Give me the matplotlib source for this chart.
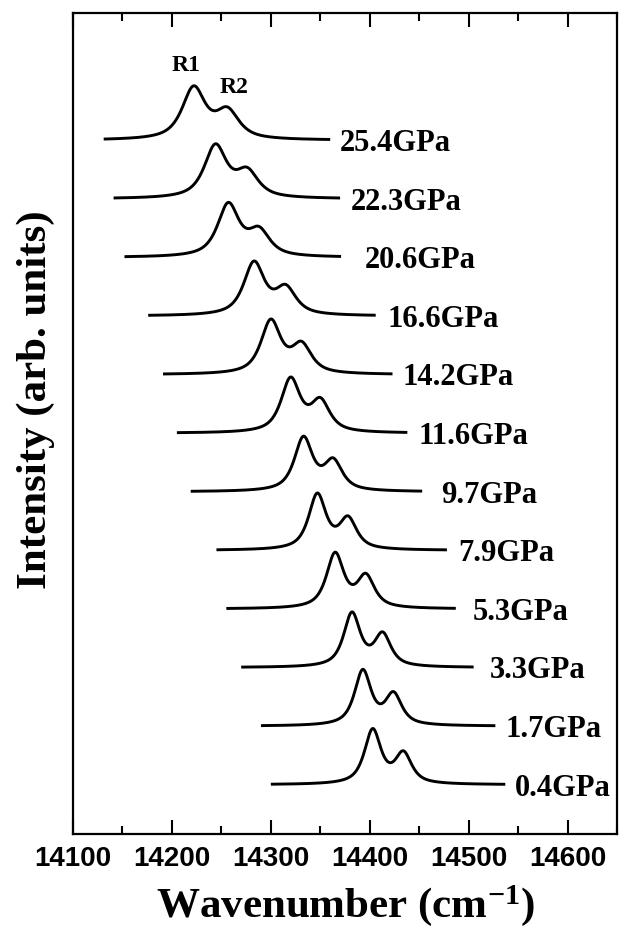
"""
Ruby R1/R2 fluorescence spectra under pressure, stacked with a vertical offset.
"""

import numpy as np
import matplotlib
matplotlib.use("Agg")
import matplotlib.pyplot as plt
from matplotlib.ticker import MultipleLocator

# pressures (GPa), bottom trace first
pressures = [0.4, 1.7, 3.3, 5.3, 7.9, 9.7, 11.6, 14.2, 16.6, 20.6, 22.3, 25.4]

# peak positions (cm-1)
r1_pos = [14403, 14393, 14382, 14365, 14347, 14333, 14320, 14300, 14283, 14257, 14244, 14222]
r2_pos = [14434, 14424, 14413, 14396, 14378, 14363, 14350, 14331, 14315, 14288, 14276, 14256]

# peak heights above each baseline (one offset step = 1)
r1_height = [0.96, 0.97, 0.95, 0.97, 0.98, 0.95, 0.96, 0.95, 0.94, 0.94, 0.94, 0.93]
r2_height = [0.58, 0.59, 0.61, 0.61, 0.59, 0.58, 0.61, 0.57, 0.54, 0.53, 0.54, 0.57]

# half width at half maximum of each line (cm-1)
hwhm = [10, 10, 10, 10.5, 10.5, 11, 11.5, 12, 12.5, 13, 13.5, 14]

# where each recorded trace starts and stops, and where its label begins
x_start = [14300, 14290, 14270, 14255, 14245, 14219, 14205, 14191, 14176, 14152, 14141, 14131]
x_end = [14537, 14527, 14505, 14487, 14478, 14453, 14438, 14423, 14406, 14371, 14370, 14360]
label_x = [14547, 14537, 14521, 14504, 14489, 14472, 14449, 14433, 14418, 14395, 14381, 14370]

xticks = [14100, 14200, 14300, 14400, 14500, 14600]

SERIF = "Liberation Serif"
SANS = "Liberation Sans"


def line_shape(x, center, width, eta=0.8):
    """Unit-height pseudo-Voigt profile."""
    r = ((x - center) / width) ** 2
    return eta / (1.0 + r) + (1.0 - eta) * np.exp(-np.log(2) * r)


def spectrum(x, c1, c2, h1, h2, w):
    # pick amplitudes so the summed curve hits the read heights at both peaks
    s = line_shape(np.array([c2]), c1, w)[0]
    a1, a2 = np.linalg.solve([[1.0, s], [s, 1.0]], [h1, h2])
    return a1 * line_shape(x, c1, w) + a2 * line_shape(x, c2, w)


fig = plt.figure(figsize=(6.21, 9.37), dpi=100)
ax = fig.add_axes([0.1176, 0.1089, 0.876, 0.876])

for i, p in enumerate(pressures):
    x = np.linspace(x_start[i], x_end[i], 600)
    y = i + spectrum(x, r1_pos[i], r2_pos[i], r1_height[i], r2_height[i], hwhm[i])
    ax.plot(x, y, color="black", lw=2.1, solid_capstyle="butt")
    ax.text(label_x[i], i - 0.04, f"{p}GPa", ha="left", va="center",
            fontsize=22, fontweight="bold", family=SERIF)

# peak names above the top trace
ax.text(14214, 12.30, "R1", ha="center", va="center", fontsize=17,
        fontweight="bold", family=SERIF)
ax.text(14263, 11.92, "R2", ha="center", va="center", fontsize=17,
        fontweight="bold", family=SERIF)

ax.set_xlim(14100, 14650)
ax.set_ylim(-0.84, 13.17)

ax.set_xticks(xticks)
ax.xaxis.set_minor_locator(MultipleLocator(50))
ax.tick_params(axis="x", which="both", direction="in", top=True, bottom=True, width=1.5)
ax.tick_params(axis="x", which="major", length=10, pad=8)
ax.tick_params(axis="x", which="minor", length=6)
ax.set_yticks([])
for lbl in ax.get_xticklabels():
    lbl.set_family(SANS)
    lbl.set_fontweight("bold")
    lbl.set_fontsize(20)

for sp in ax.spines.values():
    sp.set_linewidth(1.6)

plt.rcParams["mathtext.default"] = "regular"
ax.set_xlabel("Wavenumber (cm$^{-1}$)", fontsize=31, fontweight="bold", family=SERIF)
ax.xaxis.set_label_coords(0.5, -0.058)
ax.set_ylabel("Intensity (arb. units)", fontsize=31, fontweight="bold", family=SERIF)
ax.yaxis.set_label_coords(-0.033, 0.53)

fig.savefig("out.png", dpi=100)
